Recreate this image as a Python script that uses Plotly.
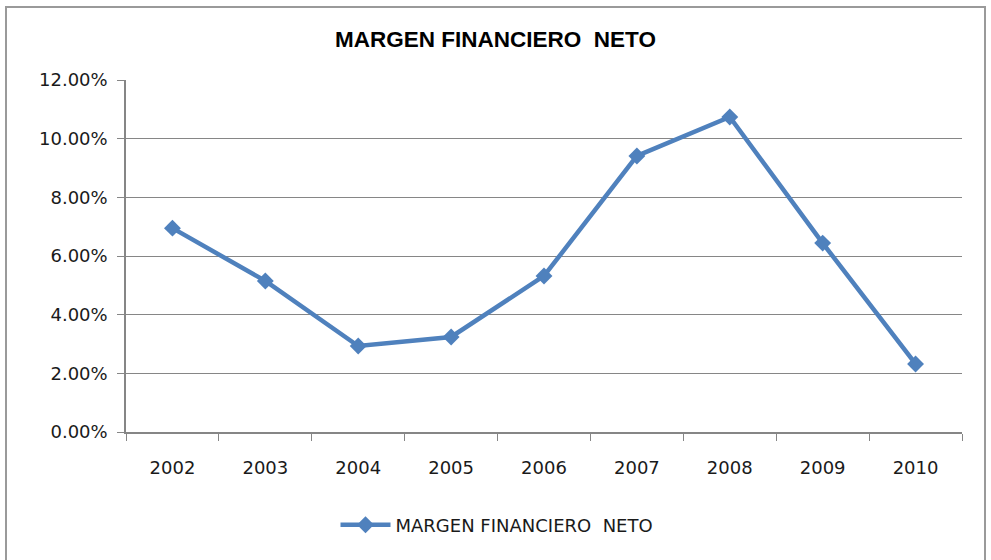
import plotly.graph_objects as go

years = ["2002", "2003", "2004", "2005", "2006", "2007", "2008", "2009", "2010"]
margen = [0.0695, 0.0515, 0.0293, 0.0324, 0.0532, 0.0941, 0.1074, 0.0644, 0.0232]
y_ticks = [0, 0.02, 0.04, 0.06, 0.08, 0.10, 0.12]

L, R, T, B = 126, 29, 80, 128
W, H = 991, 560
pw, ph = W - L - R, H - T - B

def px_x(p):
    return (p - L) / pw

def px_y(p):
    return (H - B - p) / ph

fig = go.Figure()
fig.add_trace(go.Scatter(
    x=years, y=margen, mode="lines+markers",
    name="MARGEN FINANCIERO  NETO",
    line=dict(color="#4F81BD", width=4.5),
    marker=dict(symbol="diamond", size=13, color="#4F81BD"),
))

fig.update_layout(
    width=W, height=H,
    margin=dict(l=L, r=R, t=T, b=B),
    paper_bgcolor="white", plot_bgcolor="white",
    title=dict(text="<b>MARGEN FINANCIERO  NETO</b>", x=0.5, xanchor="center",
               y=1 - 39 / H, yanchor="middle",
               font=dict(family="Liberation Sans Narrow, Arial Narrow, Liberation Sans", size=22.5, color="black")),
    font=dict(family="DejaVu Sans, Open Sans", size=18, color="#1a1a1a"),
    showlegend=True,
    legend=dict(orientation="h", x=px_x(497), xanchor="center", y=px_y(525), yanchor="middle",
                font=dict(size=18, color="#1a1a1a"), itemwidth=50),
    xaxis=dict(type="category", tickson="boundaries", ticks="outside", ticklen=7,
               tickcolor="#868686", showline=True, linecolor="#868686", linewidth=1.5,
               showgrid=False, tickfont=dict(size=18), range=[-0.5, 8.5],
               ticklabelstandoff=19),
    yaxis=dict(range=[0, 0.12], tickvals=y_ticks, tickformat=".2%", ticks="outside",
               ticklen=7, tickcolor="#868686", showline=True, linecolor="#868686", linewidth=1.5,
               showgrid=True, gridcolor="#868686", gridwidth=1.2, zeroline=False,
               tickfont=dict(size=18), ticklabelstandoff=6),
    shapes=[dict(type="rect", xref="paper", yref="paper",
                 x0=px_x(6), x1=px_x(985), y0=px_y(575), y1=px_y(7),
                 line=dict(color="#9a9a9a", width=2), fillcolor="rgba(0,0,0,0)", layer="below")],
)

fig.write_html("out.html", config={"displayModeBar": False},
               post_script="document.body.style.margin='0';")
